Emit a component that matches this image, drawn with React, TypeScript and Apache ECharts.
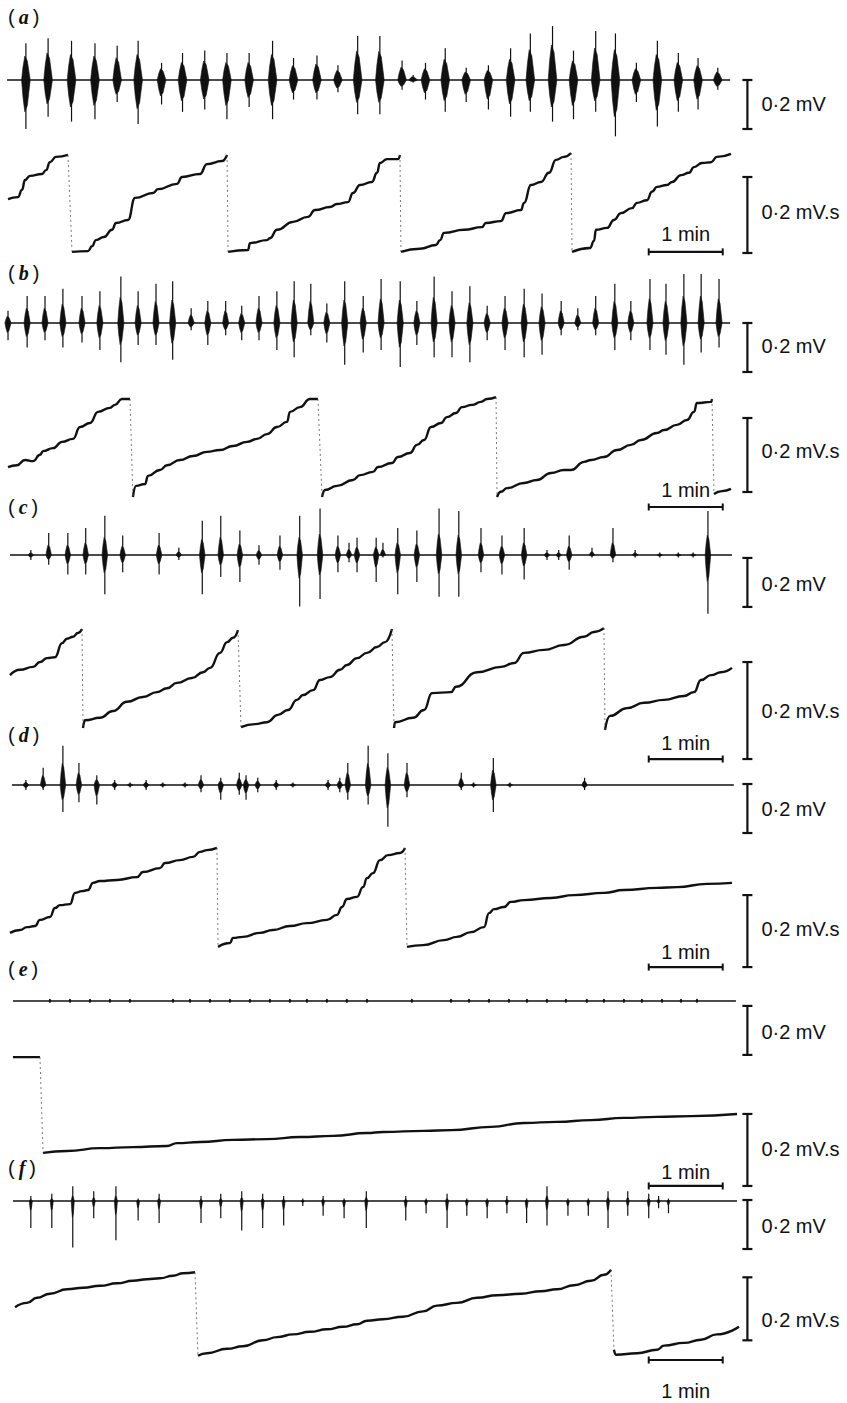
import React, { useEffect, useRef } from "react";
import * as echarts from "echarts";

type Burst = [number, number, number]; // [time s, upward peak mV, downward peak mV]
type Pt = [number, number]; // [time s, integrated value mV·s]

// ---------- raw EMG bursts ----------
const burstsA: Burst[] = [[21,0.15,0.20],[39,0.17,0.15],[58,0.16,0.17],[77,0.15,0.16],[95,0.14,0.09],[112,0.16,0.18],[131,0.07,0.10],[148,0.11,0.13],[166,0.12,0.12],[184,0.11,0.16],[202,0.11,0.11],[221,0.16,0.16],[238,0.09,0.08],[257,0.10,0.08],[274,0.06,0.05],[290,0.18,0.14],[308,0.18,0.14],[326,0.08,0.04],[335,0.02,0.01],[345,0.07,0.08],[361,0.13,0.13],[378,0.05,0.09],[396,0.06,0.12],[414,0.13,0.15],[430,0.19,0.13],[448,0.22,0.17],[465,0.12,0.16],[483,0.20,0.13],[499,0.19,0.23],[516,0.07,0.09],[533,0.16,0.19],[550,0.11,0.13],[566,0.09,0.12],[582,0.05,0.04]];
const burstsB: Burst[] = [[6.5,0.05,0.07],[22,0.11,0.10],[36.5,0.11,0.07],[51,0.14,0.10],[66.5,0.11,0.08],[81,0.13,0.11],[98,0.19,0.16],[112,0.13,0.09],[126.5,0.16,0.09],[140,0.17,0.15],[155,0.06,0.03],[168.5,0.09,0.09],[183,0.09,0.05],[196,0.07,0.07],[210,0.11,0.07],[224.5,0.13,0.11],[238.5,0.17,0.14],[252,0.16,0.05],[265,0.08,0.08],[279.5,0.17,0.17],[294.5,0.11,0.12],[309,0.18,0.11],[324.5,0.17,0.18],[338,0.09,0.09],[352,0.19,0.14],[366.5,0.13,0.14],[381,0.15,0.16],[395,0.07,0.07],[409.5,0.11,0.11],[425,0.14,0.14],[439.5,0.12,0.13],[455,0.09,0.05],[468.5,0.06,0.03],[483,0.11,0.05],[498.5,0.16,0.11],[511.5,0.09,0.07],[527,0.18,0.11],[540,0.16,0.13],[554.5,0.20,0.17],[568.5,0.20,0.12],[583,0.18,0.10]];
const burstsC: Burst[] = [[25,0.02,0.02],[39.5,0.09,0.04],[55,0.09,0.08],[69.5,0.11,0.08],[85,0.16,0.16],[99.5,0.08,0.07],[129,0.09,0.08],[145,0.03,0.02],[164,0.14,0.16],[179,0.16,0.09],[194.5,0.10,0.11],[210,0.04,0.04],[227,0.08,0.06],[243,0.16,0.21],[259.5,0.19,0.18],[274,0.08,0.07],[283,0.05,0.03],[289.5,0.07,0.07],[305,0.07,0.11],[310.5,0.05,0.01],[322.5,0.11,0.16],[338,0.10,0.11],[356,0.19,0.17],[372,0.18,0.17],[390,0.11,0.07],[407,0.08,0.08],[425,0.11,0.10],[443.5,0.02,0.02],[453,0.02,0.02],[461.5,0.08,0.06],[480,0.03,0.01],[497,0.11,0.03],[515,0.02,0.01],[535,0.01,0.01],[550,0.01,0.01],[562,0.01,0.01],[574,0.18,0.24]];
const burstsD: Burst[] = [[21,0.02,0.02],[35,0.07,0.02],[51,0.16,0.11],[64,0.09,0.07],[78.5,0.04,0.08],[93,0.02,0.02],[105.5,0.01,0.01],[118.5,0.02,0.02],[132,0.01,0.01],[150,0.01,0.01],[163,0.04,0.03],[179,0.03,0.06],[194,0.05,0.04],[199.5,0.04,0.06],[209,0.03,0.03],[224,0.02,0.02],[237.5,0.01,0.01],[266,0.02,0.02],[275.5,0.03,0.03],[282,0.09,0.06],[298.5,0.16,0.08],[314.5,0.13,0.17],[330,0.09,0.05],[374,0.05,0.02],[384,0.01,0.01],[400,0.11,0.11],[413.5,0.01,0.01],[474,0.03,0.02]];
const burstsE: Burst[] = [[40.5,0.008,0.006],[56.8,0.008,0.006],[73,0.008,0.006],[89.2,0.008,0.006],[105.4,0.008,0.006],[140.3,0.008,0.006],[154.1,0.008,0.006],[170.3,0.008,0.006],[186.5,0.008,0.006],[202.7,0.008,0.006],[218.9,0.008,0.006],[235.1,0.008,0.006],[248.9,0.008,0.006],[265.1,0.008,0.006],[281.3,0.008,0.006],[297.6,0.008,0.006],[334,0.008,0.006],[365.7,0.008,0.006],[380.3,0.008,0.006],[396.5,0.008,0.006],[412.7,0.008,0.006],[427.3,0.008,0.006],[443.5,0.008,0.006],[458.9,0.008,0.006],[475.9,0.008,0.006],[489.7,0.008,0.006],[505.9,0.008,0.006],[520.5,0.008,0.006],[536.8,0.008,0.006],[552.2,0.008,0.006],[565.1,0.008,0.006]];
const burstsF: Burst[] = [[25,0.02,0.11],[42,0.03,0.11],[59,0.06,0.19],[76,0.04,0.07],[94,0.06,0.16],[112,0.01,0.08],[129,0.03,0.09],[163,0.02,0.09],[179,0.03,0.07],[196,0.04,0.12],[213,0.03,0.11],[230,0.02,0.10],[245.5,0.01,0.02],[262,0.02,0.06],[279,0.01,0.07],[297,0.04,0.11],[329,0.02,0.08],[345.5,0.01,0.05],[362.5,0.03,0.11],[378.5,0.01,0.06],[395,0.01,0.07],[411,0.02,0.05],[427,0.01,0.09],[443.5,0.06,0.10],[460.5,0.01,0.06],[477,0.01,0.06],[493,0.04,0.11],[509,0.04,0.06],[526,0.03,0.07],[534,0.02,0.03],[542,0.01,0.05]];

// ---------- integrated traces (segments between resets) ----------
const integA: Pt[][] = [
  [[6.5,0.142],[14.6,0.147],[17.8,0.166],[20.3,0.192],[24.3,0.203],[34.1,0.208],[37.3,0.218],[40.5,0.239],[45.4,0.253],[55.1,0.258]],
  [[58.4,0.003],[71.4,0.005],[74.6,0.018],[77.8,0.034],[84.3,0.042],[90.8,0.061],[94.1,0.079],[103.8,0.087],[109.5,0.145],[124.1,0.158],[128.1,0.168],[143.5,0.182],[147.6,0.2],[162.2,0.208],[167.8,0.234],[180,0.242],[184.1,0.258]],
  [[184.9,0.003],[201.1,0.008],[202.7,0.026],[216.5,0.034],[218.9,0.039],[224.6,0.061],[237.6,0.082],[249.7,0.095],[255.4,0.113],[267.6,0.121],[273.2,0.129],[282.2,0.134],[286.2,0.158],[291.9,0.179],[301.6,0.187],[305.7,0.211],[308.1,0.237],[313.8,0.247],[322.7,0.247],[324.3,0.258]],
  [[325.1,0.003],[340.5,0.011],[353.5,0.021],[356.8,0.034],[360,0.053],[376.2,0.061],[390.8,0.068],[394,0.079],[406.2,0.084],[410.3,0.105],[422.4,0.113],[424.9,0.132],[430.5,0.179],[438.6,0.187],[445.1,0.211],[450.8,0.245],[457.3,0.253],[463,0.263]],
  [[463.8,0.003],[478.4,0.013],[481.6,0.032],[483.2,0.061],[492.2,0.066],[497.8,0.087],[503.5,0.105],[512.4,0.118],[516.5,0.132],[524.6,0.139],[528.6,0.161],[532.7,0.174],[540.8,0.179],[544.9,0.187],[552.2,0.205],[558.6,0.211],[562.7,0.226],[569.2,0.237],[576.5,0.239],[581.3,0.253],[592.7,0.261]],
];
const integB: Pt[][] = [
  [[6.5,0.081],[13.8,0.086],[20.3,0.1],[26.8,0.097],[32.4,0.114],[34.9,0.124],[43,0.132],[50.3,0.149],[59.2,0.157],[64.9,0.189],[73,0.2],[79.5,0.23],[89.2,0.241],[93.2,0.249],[98.9,0.265],[105.4,0.265]],
  [[107.8,0],[110.3,0.03],[117.6,0.035],[120,0.057],[129.7,0.073],[135.4,0.086],[145.9,0.1],[156.5,0.111],[167.8,0.122],[178.4,0.127],[188.9,0.138],[200.3,0.149],[208.4,0.157],[216.5,0.17],[224.6,0.189],[232.7,0.203],[235.1,0.23],[243.2,0.243],[251.3,0.265],[257.8,0.265]],
  [[261.1,0],[263.5,0.019],[273.2,0.03],[286.2,0.046],[291.9,0.059],[302.4,0.068],[306.5,0.081],[317.8,0.092],[322.7,0.108],[332.4,0.119],[338.1,0.141],[343.8,0.154],[349.5,0.189],[357.6,0.2],[362.4,0.216],[369.7,0.227],[374.6,0.243],[382.7,0.249],[390,0.257],[394.9,0.265],[402.2,0.27]],
  [[403,0],[406.2,0.014],[411.1,0.024],[424.9,0.038],[435.4,0.046],[446.8,0.065],[457.3,0.073],[463,0.073],[473.5,0.095],[479.2,0.1],[489.7,0.108],[500.3,0.127],[511.6,0.141],[519.7,0.154],[532.7,0.173],[538.4,0.181],[548.9,0.195],[557,0.208],[562.7,0.23],[565.1,0.254],[576.5,0.257],[577.3,0.265]],
  [[578.9,0.008],[585.4,0.016],[592.7,0.022]],
];
const integC: Pt[][] = [
  [[8.1,0.109],[16.2,0.12],[26.8,0.126],[32.4,0.136],[38.1,0.144],[44.6,0.146],[50.3,0.175],[54.3,0.184],[59.2,0.188],[63.2,0.196],[66.5,0.204]],
  [[67.3,0],[68.9,0.016],[81.1,0.021],[91.6,0.035],[103,0.054],[115.9,0.064],[127.3,0.074],[135.4,0.082],[143.5,0.093],[155.7,0.103],[164.6,0.115],[170.3,0.124],[178.4,0.155],[184.1,0.177],[188.9,0.186],[193,0.202]],
  [[195.4,0.002],[206.8,0.008],[216.5,0.012],[225.4,0.027],[233.5,0.037],[240.8,0.058],[245.7,0.068],[253.8,0.078],[259.5,0.099],[267.6,0.105],[275.7,0.12],[281.3,0.13],[289.5,0.144],[297.6,0.155],[305.7,0.167],[312.2,0.177],[317.8,0.204]],
  [[319.5,0],[320.3,0.012],[334.9,0.021],[343.8,0.037],[350.3,0.072],[365.7,0.074],[369.7,0.085],[386.8,0.115],[406.2,0.126],[416.8,0.134],[424.9,0.155],[441.1,0.161],[457.3,0.171],[473.5,0.188],[481.6,0.198],[489.7,0.206]],
  [[490.5,-0.004],[494.6,0.025],[508.4,0.041],[522.2,0.052],[538.4,0.058],[554.6,0.066],[562.7,0.074],[568.4,0.099],[576.5,0.109],[584.6,0.115],[593.5,0.124]],
];
const integD: Pt[][] = [
  [[8.1,0.042],[16.2,0.05],[21.9,0.058],[28.4,0.061],[32.4,0.078],[40.5,0.086],[44.6,0.111],[48.6,0.119],[56.8,0.122],[60.8,0.153],[66.5,0.158],[71.4,0.161],[75.4,0.181],[81.1,0.186],[94.9,0.189],[111.1,0.197],[115.9,0.211],[129.7,0.222],[133.8,0.236],[145.9,0.244],[156.5,0.253],[162.2,0.267],[167.8,0.272],[175.9,0.278]],
  [[176.8,0.003],[186.5,0.014],[188.9,0.028],[197,0.031],[210.8,0.042],[221.3,0.05],[235.1,0.061],[248.9,0.069],[265.1,0.078],[273.2,0.092],[277.3,0.114],[281.3,0.136],[289.5,0.142],[294.3,0.169],[297.6,0.194],[302.4,0.208],[308.1,0.244],[314.6,0.258],[324.3,0.264],[328.4,0.278]],
  [[330,0.003],[343,0.008],[360,0.022],[370.5,0.031],[381.9,0.044],[392.4,0.058],[396.5,0.097],[400.5,0.108],[408.6,0.114],[414.3,0.128],[424.9,0.133],[446.8,0.139],[465.4,0.147],[489.7,0.153],[505.9,0.161],[532.7,0.167],[548.9,0.169],[573.2,0.178],[593.5,0.181]],
];
const integE: Pt[][] = [
  [[10.5,0.272],[32.4,0.272]],
  [[34.9,0.006],[54.3,0.011],[81.1,0.019],[107.8,0.022],[135.4,0.025],[143.5,0.033],[162.2,0.036],[188.9,0.042],[216.5,0.044],[243.2,0.05],[270,0.053],[297.6,0.061],[310.5,0.064],[343.8,0.067],[365.7,0.069],[398.1,0.078],[424.9,0.089],[451.6,0.092],[479.2,0.097],[505.9,0.103],[532.7,0.106],[560.3,0.108],[597.6,0.114]],
];
const integF: Pt[][] = [
  [[12.2,0.154],[21.9,0.168],[30,0.184],[40.5,0.197],[54.3,0.211],[67.3,0.216],[81.1,0.222],[94.9,0.23],[107.8,0.238],[119.2,0.243],[129.7,0.246],[140.3,0.254],[148.4,0.262],[158.1,0.265]],
  [[160.5,0],[167.8,0.008],[184.1,0.022],[197,0.03],[213.2,0.049],[224.6,0.059],[237.6,0.068],[251.3,0.076],[265.1,0.084],[278.1,0.092],[289.5,0.1],[297.6,0.111],[310.5,0.116],[326.8,0.124],[343,0.141],[354.3,0.159],[370.5,0.168],[386.8,0.184],[403,0.192],[422.4,0.197],[438.6,0.205],[451.6,0.211],[465.4,0.224],[479.2,0.238],[489.7,0.257],[495.4,0.273]],
  [[497.8,0.019],[499.5,0.003],[516.5,0.008],[532.7,0.019],[538.4,0.032],[554.6,0.041],[568.4,0.051],[581.3,0.068],[599.2,0.092]],
];

// ---------- scale-bar values ----------
const SCALE_MV = 0.2;       // mV and mV·s
const SCALE_T = 606;        // s, position of vertical scale bars
const MIN_BAR: [number, number] = [526, 586]; // 1 min

// ---------- layout ----------
const INK = "#111111";
const PX_PER_S = 74 / 60;
const T_MAX = 680;
const GRID_W = T_MAX * PX_PER_S;
const RAW_K = 245; // px per mV
const FONT = '"Liberation Sans", Arial, Helvetica, sans-serif';

interface Panel {
  letter: string; bursts: Burst[]; rawSpan: [number, number]; integ: Pt[][];
  labelY: number; rawY0: number; intY0: number; intK: number; burstW: number; core: number;
  rawBarTop: number; intBarBottom: number; minBarY: number;
  rawTextY: number; intTextY: number; minTextY: number;
}

const panels: Panel[] = [
  { letter: "a", bursts: burstsA, rawSpan: [5.7, 592], integ: integA, labelY: 17, rawY0: 80, intY0: 253, intK: 380, burstW: 7, core: 0.65, rawBarTop: 0, intBarBottom: 0, minBarY: 0.003, rawTextY: 104, intTextY: 212, minTextY: 234 },
  { letter: "b", bursts: burstsB, rawSpan: [6.5, 592], integ: integB, labelY: 273, rawY0: 323, intY0: 497, intK: 370, burstW: 5, core: 0.55, rawBarTop: 0, intBarBottom: 0.0135, minBarY: -0.027, rawTextY: 346, intTextY: 451, minTextY: 490 },
  { letter: "c", bursts: burstsC, rawSpan: [8.1, 593.5], integ: integC, labelY: 507, rawY0: 555, intY0: 728, intK: 485, burstW: 4.5, core: 0.45, rawBarTop: -0.012, intBarBottom: -0.064, minBarY: -0.064, rawTextY: 584, intTextY: 711, minTextY: 743 },
  { letter: "d", bursts: burstsD, rawSpan: [9.7, 595], integ: integD, labelY: 735, rawY0: 785, intY0: 948, intK: 360, burstW: 4.5, core: 0.55, rawBarTop: 0.004, intBarBottom: -0.053, minBarY: -0.053, rawTextY: 809, intTextY: 929, minTextY: 952 },
  { letter: "e", bursts: burstsE, rawSpan: [10.5, 596.7], integ: integE, labelY: 969, rawY0: 1001, intY0: 1155, intK: 360, burstW: 1.5, core: 1, rawBarTop: -0.02, intBarBottom: -0.086, minBarY: -0.086, rawTextY: 1032, intTextY: 1149, minTextY: 1172 },
  { letter: "f", bursts: burstsF, rawSpan: [10.5, 597.6], integ: integF, labelY: 1168, rawY0: 1201, intY0: 1375, intK: 370, burstW: 2.5, core: 0.35, rawBarTop: 0.004, intBarBottom: 0.049, minBarY: -0.0135, rawTextY: 1226, intTextY: 1320, minTextY: 1391 },
];

const lineEl = (x1: number, y1: number, x2: number, y2: number, w: number) => ({
  type: "line", shape: { x1, y1, x2, y2 }, style: { stroke: INK, lineWidth: w },
});

const burstRenderer = (w: number, core: number) => (_p: any, api: any) => {
  const t = api.value(0), up = api.value(1), dn = api.value(2);
  const c = (x: number, y: number) => api.coord([x, y]);
  const pts = [
    c(t - w / 2, 0), c(t - w / 3, up * core * 0.55), c(t - w / 8, up * core), c(t + w / 6, up * core * 0.8), c(t + w / 2, 0),
    c(t + w / 6, -dn * core * 0.8), c(t - w / 8, -dn * core), c(t - w / 3, -dn * core * 0.55),
  ];
  const top = c(t, up), bot = c(t, -dn);
  return {
    type: "group",
    children: [
      { type: "polygon", shape: { points: pts }, style: { fill: INK, stroke: INK, lineWidth: 0.6 } },
      lineEl(top[0], top[1], bot[0], bot[1], 1.2),
    ],
  };
};

const vBarRenderer = (_p: any, api: any) => {
  const a = api.coord([api.value(0), api.value(1)]);
  const b = api.coord([api.value(0), api.value(2)]);
  const cap = 5;
  return {
    type: "group",
    children: [
      lineEl(a[0], a[1], b[0], b[1], 2.2),
      lineEl(a[0] - cap, a[1], a[0] + cap, a[1], 2.2),
      lineEl(b[0] - cap, b[1], b[0] + cap, b[1], 2.2),
    ],
  };
};

const hBarRenderer = (_p: any, api: any) => {
  const a = api.coord([api.value(0), api.value(2)]);
  const b = api.coord([api.value(1), api.value(2)]);
  const cap = 3.5;
  return {
    type: "group",
    children: [
      lineEl(a[0], a[1], b[0], b[1], 2.2),
      lineEl(a[0], a[1] - cap, a[0], a[1] + cap, 2),
      lineEl(b[0], b[1] - cap, b[0], b[1] + cap, 2),
    ],
  };
};

function buildOption() {
  const grid: any[] = [], xAxis: any[] = [], yAxis: any[] = [], series: any[] = [], graphic: any[] = [];
  panels.forEach((p, i) => {
    const rI = 2 * i, iI = 2 * i + 1;
    grid.push({ left: 0, top: p.rawY0 - 0.3 * RAW_K, width: GRID_W, height: 0.6 * RAW_K });
    grid.push({ left: 0, top: p.intY0 - 0.35 * p.intK, width: GRID_W, height: 0.5 * p.intK });
    [rI, iI].forEach((g) => xAxis.push({ type: "value", gridIndex: g, min: 0, max: T_MAX, show: false }));
    yAxis.push({ type: "value", gridIndex: rI, min: -0.3, max: 0.3, show: false });
    yAxis.push({ type: "value", gridIndex: iI, min: -0.15, max: 0.35, show: false });

    const common = (g: number) => ({ xAxisIndex: g, yAxisIndex: g, silent: true, animation: false });

    // raw baseline and bursts
    series.push({ ...common(rI), type: "line", symbol: "none", data: [[p.rawSpan[0], 0], [p.rawSpan[1], 0]], lineStyle: { color: INK, width: 1.5 } });
    series.push({ ...common(rI), type: "custom", renderItem: burstRenderer(p.burstW, p.core), data: p.bursts, encode: { x: 0, y: 1 } });

    // integrated trace
    p.integ.forEach((seg) => {
      series.push({ ...common(iI), type: "line", symbol: "none", smooth: 0.5, smoothMonotone: "x", data: seg, lineStyle: { color: INK, width: 2.4 } });
    });
    for (let k = 0; k < p.integ.length - 1; k++) {
      const a = p.integ[k][p.integ[k].length - 1];
      const b = p.integ[k + 1][0];
      series.push({ ...common(iI), type: "line", symbol: "none", data: [a, b], lineStyle: { color: "#555", width: 0.8, type: [2, 3] } });
    }

    // scale bars
    series.push({ ...common(rI), type: "custom", renderItem: vBarRenderer, data: [[SCALE_T, p.rawBarTop, p.rawBarTop - SCALE_MV]] });
    series.push({ ...common(iI), type: "custom", renderItem: vBarRenderer, data: [[SCALE_T, p.intBarBottom, p.intBarBottom + SCALE_MV]] });
    series.push({ ...common(iI), type: "custom", renderItem: hBarRenderer, data: [[MIN_BAR[0], MIN_BAR[1], p.minBarY]] });

    // texts
    graphic.push({
      type: "text", x: 8, y: p.labelY,
      style: {
        text: `({i|\u2009${p.letter}\u2009})`, fill: INK, font: `20px ${FONT}`,
        verticalAlign: "middle", textVerticalAlign: "middle",
        rich: { i: { fontStyle: "italic", fontWeight: "bold", fontSize: 20, fontFamily: "Liberation Serif, serif", fill: INK } },
      },
      silent: true,
    });
    const txt = (text: string, x: number, y: number, align: string) => ({
      type: "text", x, y, silent: true,
      style: { text, fill: INK, font: `20px ${FONT}`, align, textAlign: align, verticalAlign: "middle", textVerticalAlign: "middle" },
    });
    const textX = SCALE_T * PX_PER_S + 14;
    graphic.push(txt("0·2 mV", textX, p.rawTextY, "left"));
    graphic.push(txt("0·2 mV.s", textX, p.intTextY, "left"));
    graphic.push(txt("1 min", ((MIN_BAR[0] + MIN_BAR[1]) / 2) * PX_PER_S, p.minTextY, "center"));
  });
  return { animation: false, backgroundColor: "#ffffff", grid, xAxis, yAxis, series, graphic };
}

export default function App() {
  const ref = useRef<HTMLDivElement>(null);
  useEffect(() => {
    document.body.style.margin = "0";
    if (!ref.current) return;
    const chart = echarts.init(ref.current, undefined, { renderer: "svg" });
    chart.setOption(buildOption() as any);
    return () => chart.dispose();
  }, []);
  return <div ref={ref} style={{ width: 847, height: 1403, overflow: "hidden", background: "#fff" }} />;
}
